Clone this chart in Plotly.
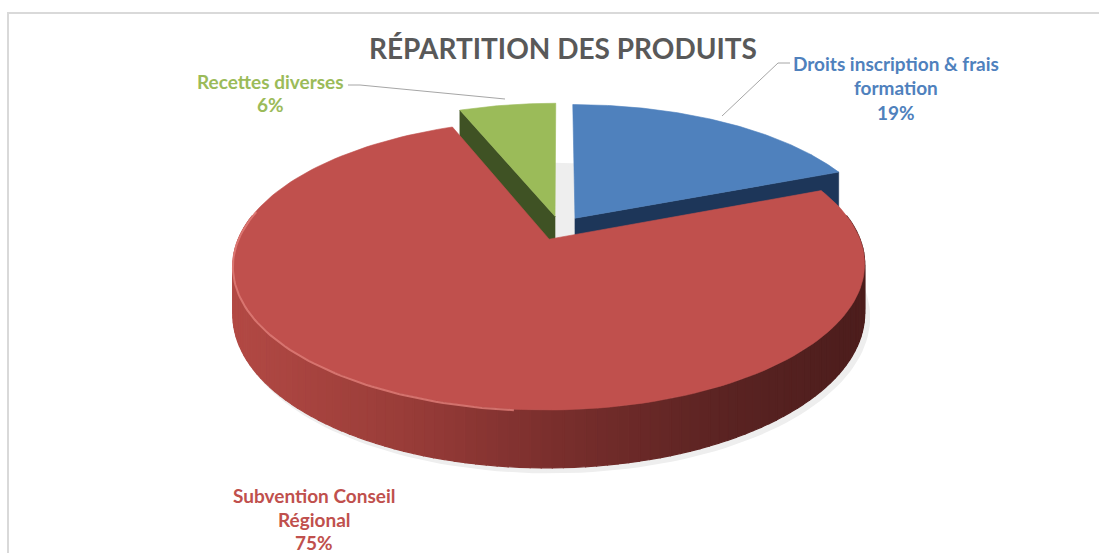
import numpy as np
import plotly.graph_objects as go

# ---------------- data ----------------
categories = ["Droits inscription & frais formation", "Subvention Conseil Régional", "Recettes diverses"]
values = [19, 75, 6]
label_lines = [["Droits inscription & frais", "formation"], ["Subvention Conseil", "Régional"], ["Recettes diverses"]]
top_colors = ["#4f81bd", "#c0504d", "#9bbb59"]
face_colors = ["#1d3659", "#4f1e1d", "#3f5224"]
title_text = "RÉPARTITION DES PRODUITS"

# ---------------- 3D pie geometry (perspective projection) ----------------
CX, CY = 560.0, 228.0
A, B, K = 306.5, 136.6, 0.1746
H = 47.0
EXPLODE = 0.088


def proj(u, v, dz=0.0):
    u = np.asarray(u, dtype=float)
    v = np.asarray(v, dtype=float)
    w = 1 + K * v
    return CX + A * u / w, CY - B * v / w + dz * H / w


total = float(sum(values))
cum = np.concatenate([[0.0], np.cumsum(values)]) / total * 2 * np.pi
slices = []
for i, val in enumerate(values):
    t0, t1 = cum[i], cum[i + 1]
    mid = (t0 + t1) / 2
    slices.append(dict(t0=t0, t1=t1, ou=EXPLODE * np.sin(mid), ov=EXPLODE * np.cos(mid)))


def rim(s, t, dz=0.0, r=1.0):
    return proj(r * np.sin(t) + s["ou"], r * np.cos(t) + s["ov"], dz)


fig = go.Figure()


def poly(xs, ys, color, lw=0.6):
    fig.add_trace(go.Scatter(x=list(xs) + [xs[0]], y=list(ys) + [ys[0]], mode="lines",
                             fill="toself", fillcolor=color,
                             line=dict(color=color, width=lw),
                             hoverinfo="skip", showlegend=False))


def lerp_color(p):
    stops = [(0.0, (178, 73, 68)), (0.28, (152, 60, 56)), (0.52, (120, 46, 44)),
             (0.78, (90, 35, 34)), (1.0, (76, 29, 28))]
    p = min(max(p, 0), 1)
    for (p0, c0), (p1, c1) in zip(stops[:-1], stops[1:]):
        if p <= p1:
            f = (p - p0) / (p1 - p0)
            c = [int(round(a + (b - a) * f)) for a, b in zip(c0, c1)]
            return "rgb(%d,%d,%d)" % tuple(c)
    return "rgb(%d,%d,%d)" % stops[-1][1]


# soft shadow under the big slice
s_big = slices[1]
tt = np.linspace(0, 2 * np.pi, 200)
sx, sy = rim(s_big, tt, dz=1.0)
poly(list(sx + 4), list(sy + 4), "#eeeeee", lw=3)

# outer walls (only front-facing range)
for i, s in enumerate(slices):
    a0 = max(s["t0"], np.radians(80))
    a1 = min(s["t1"], np.radians(280))
    if a1 <= a0:
        continue
    ts = np.linspace(a0, a1, 120)
    xt, yt = rim(s, ts)
    xb, yb = rim(s, ts, dz=1.0)
    xmin, xmax = 233.0, 865.0
    for j in range(len(ts) - 1):
        xs = [xt[j], xt[j + 1], xb[j + 1], xb[j]]
        ys = [yt[j], yt[j + 1], yb[j + 1], yb[j]]
        xm = (xt[j] + xt[j + 1]) / 2
        poly(xs, ys, lerp_color((xm - xmin) / (xmax - xmin)), lw=1.2)

# radial cut faces
for i, s in enumerate(slices):
    for t, visible in ((s["t1"], np.sin(s["t1"]) > 1e-6), (s["t0"], np.sin(s["t0"]) < -1e-6)):
        if not visible:
            continue
        ax, ay = rim(s, t, r=0.0)
        bx, by = rim(s, t)
        ax2, ay2 = rim(s, t, dz=1.0, r=0.0)
        bx2, by2 = rim(s, t, dz=1.0)
        poly([float(ax), float(bx), float(bx2), float(ax2)],
             [float(ay), float(by), float(by2), float(ay2)], face_colors[i])

# top faces
for i, s in enumerate(slices):
    ts = np.linspace(s["t0"], s["t1"], 160)
    xt, yt = rim(s, ts)
    ax, ay = rim(s, 0.0, r=0.0)
    poly([float(ax)] + list(xt), [float(ay)] + list(yt), top_colors[i])

# highlight on front-left rim of big slice
th = np.linspace(np.radians(185), np.radians(282), 80)
hx, hy = rim(s_big, th)
fig.add_trace(go.Scatter(x=hx, y=hy + 1, mode="lines", line=dict(color="rgba(226,128,122,0.8)", width=2),
                         hoverinfo="skip", showlegend=False))

# ---------------- labels ----------------
FONT = "Lato, Carlito, Calibri, 'Open Sans', sans-serif"
label_pos = [(896, [63, 87, 112]), (314, [495, 519, 542]), (270, [81, 104])]
for i, (lx, ys) in enumerate(label_pos):
    lines = label_lines[i] + ["%d%%" % values[i]]
    for txt, y in zip(lines, ys):
        fig.add_annotation(x=lx, y=y, text="<b>%s</b>" % txt, showarrow=False,
                           xanchor="center", yanchor="middle",
                           font=dict(family=FONT, size=19, color=top_colors[i]))

fig.add_annotation(x=563, y=48, text="<b>%s</b>" % title_text, showarrow=False,
                   xanchor="center", yanchor="middle",
                   font=dict(family=FONT, size=28, color="#595959"))

# leader lines
fig.add_trace(go.Scatter(x=[348, 360, 505], y=[85, 85, 99], mode="lines",
                         line=dict(color="#a6a6a6", width=1), hoverinfo="skip", showlegend=False))
fig.add_trace(go.Scatter(x=[790, 778, 722], y=[63, 63, 116], mode="lines",
                         line=dict(color="#a6a6a6", width=1), hoverinfo="skip", showlegend=False))

# border
fig.add_shape(type="rect", x0=8, y0=13, x1=1120, y1=600, line=dict(color="#d9d9d9", width=2),
              xref="x", yref="y", layer="below")

fig.update_layout(
    width=1099, height=553, autosize=False,
    margin=dict(l=0, r=0, t=0, b=0),
    paper_bgcolor="white", plot_bgcolor="white",
    xaxis=dict(range=[0, 1099], visible=False, fixedrange=True),
    yaxis=dict(range=[553, 0], visible=False, fixedrange=True),
    showlegend=False,
)

fig.write_html("out.html", config={"displayModeBar": False},
               post_script="document.body.style.margin='0';document.body.style.overflow='hidden';")
